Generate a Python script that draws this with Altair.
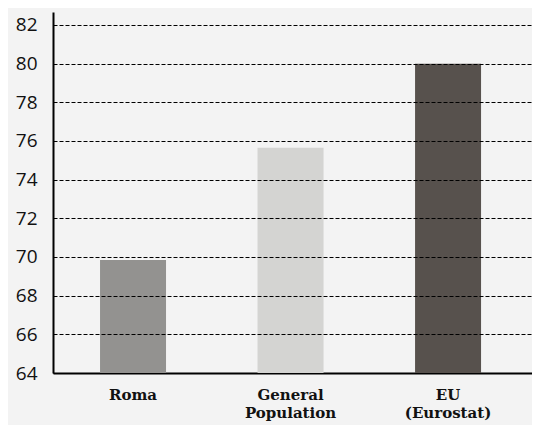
import altair as alt
import pandas as pd

categories = ["Roma", "General Population", "EU (Eurostat)"]
values = [69.85, 75.65, 80.0]
colors = ["#939290", "#d4d4d2", "#57514d"]
y_ticks = [64, 66, 68, 70, 72, 74, 76, 78, 80, 82]

df = pd.DataFrame({"cat": categories, "val": values, "color": colors})

chart = alt.Chart(df).mark_bar(clip=True).encode(
    x=alt.X("cat:N", sort=categories, title=None,
            scale=alt.Scale(paddingInner=0.581, paddingOuter=0.311, align=0.48),
            axis=alt.Axis(labelAngle=0, labelExpr="split(datum.label, ' ')",
                          labelFont="DejaVu Serif", labelFontWeight="bold",
                          labelFontSize=15, labelColor="#111111", labelLineHeight=18,
                          labelPadding=14, ticks=False, domainColor="#000000",
                          domainWidth=2, grid=False)),
    y=alt.Y("val:Q", title=None,
            scale=alt.Scale(domain=[64, 82.67], nice=False, zero=False),
            axis=alt.Axis(values=y_ticks, labelFont="Open Sans", labelFontSize=19,
                          labelColor="#111111", labelPadding=16, tickSize=0,
                          domainColor="#000000", domainWidth=2,
                          grid=True, gridColor="#000000", gridDash=[4, 2],
                          gridWidth=1, zindex=1)),
    color=alt.Color("color:N", scale=None, legend=None),
).properties(
    width=479, height=361,
    autosize=alt.AutoSizeParams(type="none"),
    padding={"left": 45, "top": 4, "right": 0, "bottom": 52},
    background="#f3f3f3",
).configure_view(stroke=None)

chart.save("out.html", embed_options={"renderer": "svg", "actions": False})
